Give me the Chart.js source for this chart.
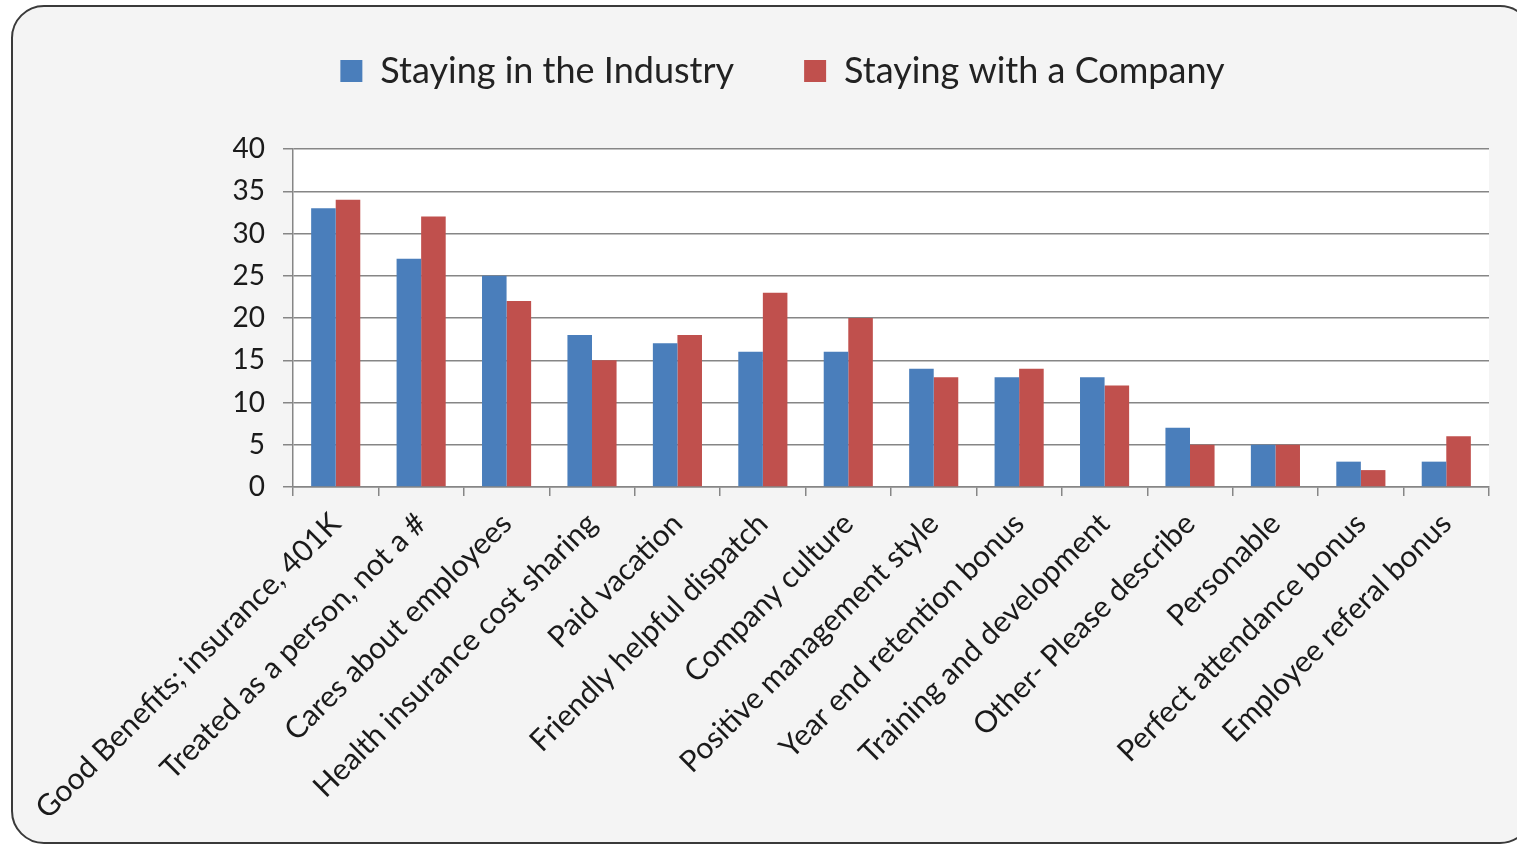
<!DOCTYPE html>
<html>
<head>
<meta charset="utf-8">
<script src="https://cdn.jsdelivr.net/npm/chart.js@4/dist/chart.umd.min.js"></script>
<style>
  html, body { margin: 0; padding: 0; background: #fff; }
  #wrap { position: absolute; left: 0; top: 0; width: 1517px; height: 845px; }
</style>
</head>
<body>
<div id="wrap"><canvas id="chart" width="1517" height="845"></canvas></div>
<script>
const categories = [
  'Good Benefits; insurance, 401K',
  'Treated as a person, not a #',
  'Cares about employees',
  'Health insurance cost sharing',
  'Paid vacation',
  'Friendly helpful dispatch',
  'Company culture',
  'Positive management style',
  'Year end retention bonus',
  'Training and development',
  'Other- Please describe',
  'Personable',
  'Perfect attendance bonus',
  'Employee referal bonus'
];
const industry = [33, 27, 25, 18, 17, 16, 16, 14, 13, 13, 7, 5, 3, 3];
const company = [34, 32, 22, 15, 18, 23, 20, 13, 14, 12, 5, 5, 2, 6];
const yTicks = [0, 5, 10, 15, 20, 25, 30, 35, 40];

// rounded frame + white plot area
const framePlugin = {
  id: 'frame',
  afterLayout(chart) {
    // nudge the legend to where the original sits
    chart.legend.top = -17;
    chart.legend.left += 76;
  },
  beforeDraw(chart) {
    const ctx = chart.ctx;
    const a = chart.chartArea;
    ctx.save();
    ctx.fillStyle = '#ffffff';
    ctx.fillRect(0, 0, chart.width, chart.height);
    ctx.beginPath();
    ctx.roundRect(12, 6, 1520, 837, 32);
    ctx.fillStyle = '#f4f4f4';
    ctx.fill();
    ctx.lineWidth = 2;
    ctx.strokeStyle = '#3a3a3a';
    ctx.stroke();
    ctx.fillStyle = '#ffffff';
    ctx.fillRect(a.left, a.top, a.right - a.left, a.bottom - a.top);
    ctx.restore();
  }
};

const ctx = document.getElementById('chart');
new Chart(ctx, {
  type: 'bar',
  data: {
    labels: categories,
    datasets: [
      {
        label: 'Staying in the Industry',
        data: industry,
        backgroundColor: '#4a7ebb',
        barPercentage: 1,
        categoryPercentage: 0.575
      },
      {
        label: 'Staying with a Company',
        data: company,
        backgroundColor: '#c0504d',
        barPercentage: 1,
        categoryPercentage: 0.575
      }
    ]
  },
  options: {
    responsive: false,
    animation: false,
    layout: {
      padding: { left: 0, right: 28, top: 33, bottom: 0 }
    },
    plugins: {
      tooltip: { enabled: false },
      legend: {
        position: 'top',
        labels: {
          color: '#222',
          font: { family: 'Lato', size: 36 },
          boxWidth: 22,
          boxHeight: 22,
          padding: 70
        }
      }
    },
    scales: {
      x: {
        grid: {
          offset: true,
          drawOnChartArea: false,
          drawTicks: true,
          tickLength: 9,
          color: '#868686',
          lineWidth: 1.5
        },
        border: { color: '#868686', width: 1.5 },
        ticks: {
          color: '#1a1a1a',
          font: { family: 'Lato', size: 30 },
          maxRotation: 45,
          minRotation: 45,
          autoSkip: false,
          padding: 10
        },
        afterFit(scale) {
          scale.height = 358;
          scale.paddingLeft = 0;
          scale.paddingRight = 0;
        }
      },
      y: {
        min: 0,
        max: 40,
        afterBuildTicks(scale) {
          scale.ticks = yTicks.map(v => ({ value: v }));
        },
        grid: {
          color: '#868686',
          lineWidth: 1.5,
          tickLength: 10
        },
        border: { color: '#868686', width: 1.5 },
        ticks: {
          color: '#1a1a1a',
          font: { family: 'Lato', size: 28 },
          padding: 18
        },
        afterFit(scale) {
          scale.width = 293;
        }
      }
    }
  },
  plugins: [framePlugin]
});
</script>
</body>
</html>
